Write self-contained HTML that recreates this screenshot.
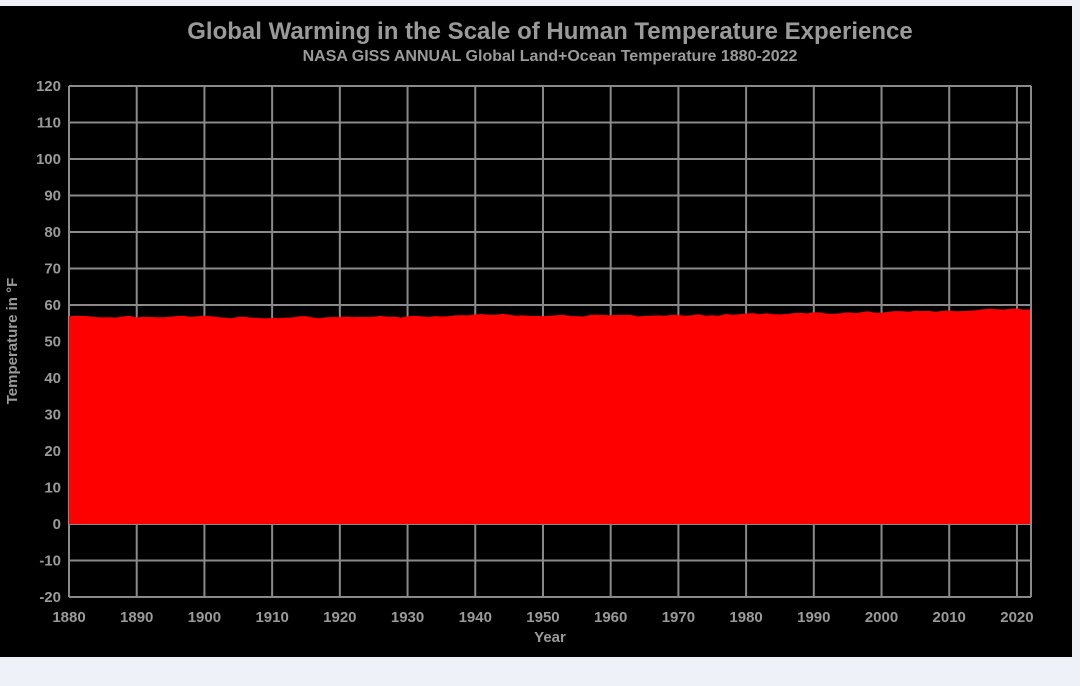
<!DOCTYPE html>
<html><head><meta charset="utf-8"><style>
html,body{margin:0;padding:0;background:#eef1f8;width:1080px;height:686px;overflow:hidden}
svg{display:block}
text{font-family:"Liberation Sans",Arial,sans-serif;font-weight:bold;fill:#9a9a9a}
</style></head><body>
<svg id="s" width="1080" height="686" xmlns="http://www.w3.org/2000/svg">
<rect x="0" y="6" width="1072" height="651" fill="#000"/>
<text x="550" y="39" font-size="24" text-anchor="middle">Global Warming in the Scale of Human Temperature Experience</text>
<text x="550" y="61" font-size="16" text-anchor="middle">NASA GISS ANNUAL Global Land+Ocean Temperature 1880-2022</text>
<text x="17" y="341" font-size="15" text-anchor="middle" transform="rotate(-90 17 341)">Temperature in °F</text>
<text x="550" y="642" font-size="15" text-anchor="middle">Year</text>
<g id="grid" stroke="#8a8a8a" stroke-width="2" fill="none"></g>
<polygon id="fill" fill="#ff0000"/>
<g id="lbl" font-size="15"></g>
</svg>
<script>
var X=function(y){return 69+(y-1880)*6.771},Y=function(t){return 524-t*3.65};
var g=document.getElementById('grid'),l=document.getElementById('lbl'),ns='http://www.w3.org/2000/svg';
function el(p,n,a,t){var e=document.createElementNS(ns,n);for(var k in a)e.setAttribute(k,a[k]);if(t!==undefined)e.textContent=String(t);p.appendChild(e);}
for(var t=-20;t<=120;t+=10){el(g,'line',{x1:69,x2:1031,y1:Y(t),y2:Y(t)});el(l,'text',{x:61,y:Y(t)+5,'text-anchor':'end'},t);}
for(var y=1880;y<=2020;y+=10){el(g,'line',{x1:X(y),x2:X(y),y1:86,y2:597});el(l,'text',{x:X(y),y:622,'text-anchor':'middle'},y);}
el(g,'line',{x1:1031,x2:1031,y1:86,y2:597});
var a=[-.17,-.09,-.11,-.17,-.28,-.33,-.31,-.36,-.18,-.11,-.35,-.22,-.27,-.31,-.31,-.23,-.11,-.11,-.27,-.17,-.08,-.15,-.28,-.37,-.47,-.26,-.22,-.39,-.43,-.48,-.43,-.44,-.36,-.34,-.15,-.14,-.36,-.46,-.30,-.28,-.27,-.19,-.28,-.26,-.27,-.22,-.11,-.22,-.20,-.36,-.16,-.10,-.16,-.29,-.13,-.20,-.15,-.03,0,-.02,.13,.19,.07,.09,.20,.09,-.07,-.03,-.11,-.11,-.17,-.07,.01,.08,-.13,-.14,-.19,.05,.06,.03,-.03,.06,.03,.05,-.20,-.11,-.06,-.02,-.08,.05,.03,-.08,.01,.16,-.07,-.01,-.10,.18,.07,.16,.26,.32,.14,.31,.16,.12,.18,.32,.39,.27,.45,.40,.22,.23,.31,.45,.33,.46,.61,.38,.39,.54,.63,.62,.53,.68,.64,.66,.54,.65,.72,.61,.64,.68,.75,.90,1.01,.92,.85,.98,1.01,.85,.89];
var pts=[X(1880)+','+Y(0)];
for(var i=0;i<a.length;i++){var x=i==a.length-1?1030:X(1880+i);pts.push(x.toFixed(1)+','+Y(57.2+1.8*a[i]).toFixed(1));}
pts.push('1030,'+Y(0));
document.getElementById('fill').setAttribute('points',pts.join(' '));
</script>
</body></html>
